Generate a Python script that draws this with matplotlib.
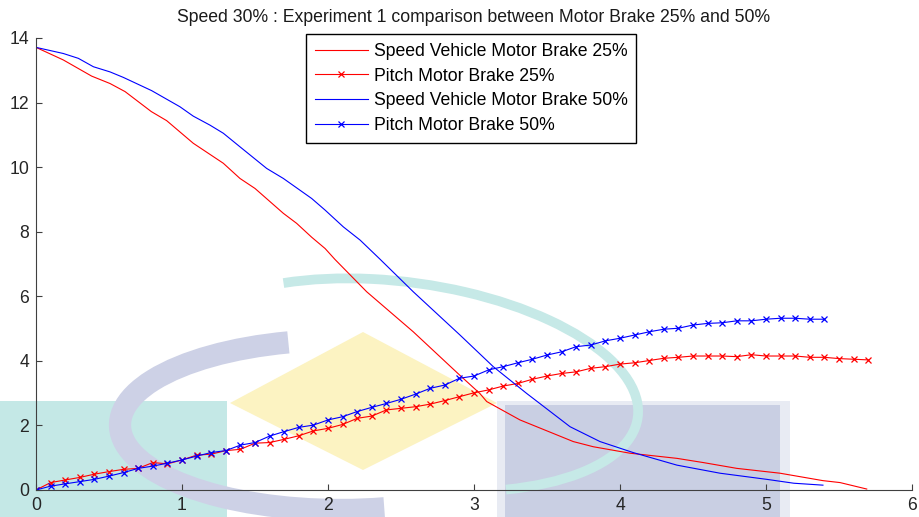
import matplotlib
matplotlib.use("Agg")
import matplotlib.pyplot as plt
import numpy as np
from matplotlib.patches import Arc, Polygon, Rectangle

# vehicle speed, motor brake 25% / 50%
t_speed25 = [0, 0.187, 0.381, 0.507, 0.61, 0.79, 0.895, 1.077, 1.283, 1.397, 1.5, 1.694,
             1.785, 1.888, 1.98, 2.048, 2.265, 2.584, 2.904, 3.04, 3.087, 3.315, 3.68,
             3.817, 4.068, 4.39, 4.57, 4.8, 5.096, 5.39, 5.507, 5.69]
speed25 = [13.71, 13.32, 12.82, 12.59, 12.34, 11.72, 11.44, 10.74, 10.12, 9.65, 9.34, 8.57,
           8.26, 7.83, 7.48, 7.14, 6.14, 4.90, 3.55, 2.99, 2.74, 2.17, 1.50,
           1.34, 1.14, 0.98, 0.85, 0.67, 0.52, 0.29, 0.23, 0.03]
t_speed50 = [0, 0.187, 0.29, 0.393, 0.507, 0.598, 0.792, 0.986, 1.077, 1.192, 1.283, 1.397,
             1.58, 1.694, 1.888, 1.98, 2.105, 2.22, 2.356, 2.584, 2.904, 3.132, 3.361,
             3.658, 3.863, 4.09, 4.39, 4.685, 5.005, 5.19, 5.39]
speed50 = [13.71, 13.52, 13.37, 13.11, 12.95, 12.78, 12.37, 11.87, 11.58, 11.30, 11.05, 10.63,
           9.96, 9.65, 9.03, 8.67, 8.15, 7.74, 7.15, 6.14, 4.80, 3.82, 2.99,
           1.96, 1.50, 1.16, 0.77, 0.52, 0.33, 0.21, 0.15]

# pitch, sampled every 0.1 s
DT = 0.1
pitch25 = [0, 0.23, 0.31, 0.39, 0.49, 0.57, 0.64, 0.67, 0.85, 0.81,
           0.93, 1.08, 1.11, 1.22, 1.26, 1.45, 1.47, 1.57, 1.68, 1.83,
           1.91, 2.03, 2.22, 2.29, 2.48, 2.53, 2.58, 2.66, 2.77, 2.89,
           3.01, 3.10, 3.22, 3.30, 3.43, 3.53, 3.61, 3.66, 3.77, 3.82,
           3.90, 3.94, 4.01, 4.08, 4.11, 4.15, 4.15, 4.15, 4.13, 4.19,
           4.15, 4.15, 4.15, 4.11, 4.11, 4.07, 4.05, 4.03]
pitch50 = [0, 0.12, 0.19, 0.26, 0.33, 0.43, 0.54, 0.67, 0.74, 0.83,
           0.93, 1.05, 1.16, 1.22, 1.39, 1.47, 1.67, 1.81, 1.94, 2.01,
           2.17, 2.27, 2.43, 2.56, 2.68, 2.81, 2.97, 3.15, 3.25, 3.46,
           3.53, 3.72, 3.82, 3.94, 4.05, 4.18, 4.28, 4.44, 4.49, 4.62,
           4.70, 4.80, 4.90, 4.98, 5.01, 5.11, 5.16, 5.18, 5.24, 5.24,
           5.29, 5.32, 5.32, 5.29, 5.29]
t_pitch25 = DT * np.arange(len(pitch25))
t_pitch50 = DT * np.arange(len(pitch50))

labels = ["Speed Vehicle Motor Brake 25%", "Pitch Motor Brake 25%",
          "Speed Vehicle Motor Brake 50%", "Pitch Motor Brake 50%"]
title = "Speed 30% : Experiment 1 comparison between Motor Brake 25% and 50%"

W, H = 919, 517
plt.rcParams["font.family"] = ["Liberation Sans", "DejaVu Sans"]
FS = 12.7
fig = plt.figure(figsize=(W / 100, H / 100), dpi=100)

# faint logo behind the plot, drawn in pixel space
bg = fig.add_axes([0, 0, 1, 1], zorder=0)
bg.set_xlim(0, W); bg.set_ylim(H, 0); bg.axis("off")
bg.add_patch(Rectangle((0, 401), 227, 120, color="#c4e8e6", lw=0))
bg.add_patch(Rectangle((497, 401), 293, 120, color="#e8ebf3", lw=0))
bg.add_patch(Rectangle((505, 405), 275, 120, color="#c9cfe3", lw=0))
bg.add_patch(Polygon([(230, 403), (363, 332), (497, 403), (363, 470)], closed=True,
                     color="#fcf3c2", lw=0))
bg.add_patch(Arc((405, 385), 470, 205, angle=8, theta1=212, theta2=38,
                 color="#c6e9e7", lw=7))
bg.add_patch(Arc((340, 425), 440, 170, theta1=62, theta2=238, color="#cdd1e6", lw=16))

ax = fig.add_axes([36 / W, 1 - 490 / H, (912 - 36) / W, (490 - 38) / H], zorder=1)
ax.set_facecolor("none")
ax.plot(t_speed25, speed25, color="#ff0000", lw=0.8, label=labels[0])
ax.plot(t_pitch25, pitch25, color="#ff0000", lw=0.8, marker="x", ms=5, mew=0.9,
        label=labels[1])
ax.plot(t_speed50, speed50, color="#0000ff", lw=0.8, label=labels[2])
ax.plot(t_pitch50, pitch50, color="#0000ff", lw=0.8, marker="x", ms=5, mew=0.9,
        label=labels[3])

ax.set_xlim(0, 6)
ax.set_ylim(0, 14)
ax.set_xticks(range(0, 7))
ax.set_yticks(range(0, 15, 2))
for side in ("top", "right"):
    ax.spines[side].set_visible(False)
for side in ("left", "bottom"):
    ax.spines[side].set_color("#404040")
    ax.spines[side].set_linewidth(0.8)
ax.tick_params(direction="in", length=4, width=0.8, color="#404040",
               labelsize=FS, labelcolor="#262626")
ax.tick_params(axis="y", pad=5)
ax.tick_params(axis="x", pad=5)

fig.text(474 / W, 1 - 17 / H, title, ha="center", va="center", fontsize=FS, color="#1a1a1a")

leg = ax.legend(loc="upper left", bbox_to_anchor=(306 / W, 1 - 34 / H),
                bbox_transform=fig.transFigure, borderaxespad=0, fontsize=FS,
                frameon=True, fancybox=False, edgecolor="black", framealpha=1,
                handlelength=3.0, handletextpad=0.34, labelspacing=0.44,
                borderpad=0.5, numpoints=1)
leg.get_frame().set_linewidth(1.0)

fig.savefig("out.png", dpi=100)
